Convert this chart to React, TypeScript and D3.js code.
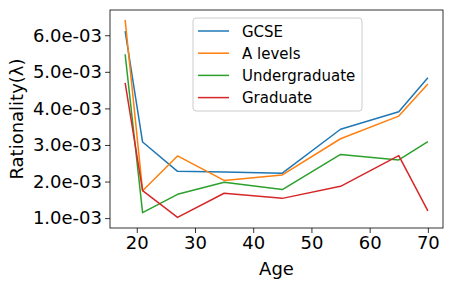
import React, { useEffect, useRef } from "react";
import * as d3 from "d3";

const ages = [18, 21, 27, 35, 45, 55, 65, 70];
const gcse = [6.11e-3, 3.08e-3, 2.28e-3, 2.26e-3, 2.23e-3, 3.43e-3, 3.91e-3, 4.84e-3];
const aLevels = [6.42e-3, 1.75e-3, 2.7e-3, 2.03e-3, 2.18e-3, 3.17e-3, 3.79e-3, 4.67e-3];
const undergrad = [5.48e-3, 1.15e-3, 1.65e-3, 1.98e-3, 1.78e-3, 2.74e-3, 2.59e-3, 3.09e-3];
const graduate = [4.7e-3, 1.75e-3, 1.02e-3, 1.68e-3, 1.54e-3, 1.87e-3, 2.71e-3, 1.2e-3];
const seriesNames = ["GCSE", "A levels", "Undergraduate", "Graduate"];
const colors = ["#1f77b4", "#ff7f0e", "#2ca02c", "#d62728"];
const xTicks = [20, 30, 40, 50, 60, 70];
const yTicks = [1e-3, 2e-3, 3e-3, 4e-3, 5e-3, 6e-3];

const W = 455;
const H = 282;
const margin = { top: 10, right: 12, bottom: 54, left: 110 };
const font = "DejaVu Sans, sans-serif";

function drawChart(node: SVGSVGElement) {
  const svg = d3.select(node);
  svg.selectAll("*").remove();

  const innerW = W - margin.left - margin.right;
  const innerH = H - margin.top - margin.bottom;

  const x = d3.scaleLinear().domain([15.4, 72.6]).range([0, innerW]);
  const y = d3.scaleLinear().domain([0.73e-3, 6.69e-3]).range([innerH, 0]);

  const g = svg.append("g").attr("transform", `translate(${margin.left},${margin.top})`);

  const allSeries = [gcse, aLevels, undergrad, graduate];
  const line = d3
    .line<number>()
    .x((d, i) => x(ages[i]))
    .y(d => y(d));

  allSeries.forEach((vals, i) => {
    g.append("path")
      .datum(vals)
      .attr("d", line)
      .attr("fill", "none")
      .attr("stroke", colors[i])
      .attr("stroke-width", 1.5)
      .attr("stroke-linejoin", "round");
  });

  // axes
  const xAxis = g
    .append("g")
    .attr("transform", `translate(0,${innerH})`)
    .call(d3.axisBottom(x).tickValues(xTicks).tickSize(5).tickPadding(3).tickFormat(d3.format("d")));
  const yAxis = g
    .append("g")
    .call(
      d3
        .axisLeft(y)
        .tickValues(yTicks)
        .tickSize(5)
        .tickPadding(3)
        .tickFormat(d => (d as number).toExponential(1).replace(/e-(\d)$/, "e-0$1"))
    );
  [xAxis, yAxis].forEach(a => {
    a.select(".domain").remove();
    a.selectAll("line").attr("stroke", "#000").attr("stroke-width", 0.8);
    a.selectAll("text").attr("fill", "#000").style("font-family", font).style("font-size", "18px");
  });

  // frame
  g.append("rect")
    .attr("width", innerW)
    .attr("height", innerH)
    .attr("fill", "none")
    .attr("stroke", "#000")
    .attr("stroke-width", 0.8);

  // labels
  svg.append("text")
    .attr("x", margin.left + innerW / 2)
    .attr("y", 275)
    .attr("text-anchor", "middle")
    .style("font-family", font)
    .style("font-size", "18px")
    .text("Age");

  svg.append("text")
    .attr("transform", `translate(23,${margin.top + innerH / 2}) rotate(-90)`)
    .attr("text-anchor", "middle")
    .style("font-family", font)
    .style("font-size", "18px")
    .text("Rationality(λ)");

  // legend
  const lg = svg.append("g").attr("transform", "translate(193,18)");
  lg.append("rect")
    .attr("width", 169)
    .attr("height", 93)
    .attr("rx", 3)
    .attr("fill", "#fff")
    .attr("fill-opacity", 0.8)
    .attr("stroke", "#ccc")
    .attr("stroke-width", 1);
  seriesNames.forEach((name, i) => {
    const yy = 13 + i * 22.2;
    lg.append("line")
      .attr("x1", 5)
      .attr("x2", 36)
      .attr("y1", yy)
      .attr("y2", yy)
      .attr("stroke", colors[i])
      .attr("stroke-width", 1.5);
    lg.append("text")
      .attr("x", 49)
      .attr("y", yy + 5.5)
      .style("font-family", font)
      .style("font-size", "15px")
      .text(name);
  });
}

export default function App() {
  const ref = useRef<SVGSVGElement>(null);
  useEffect(() => {
    if (ref.current) drawChart(ref.current);
  }, []);
  return <svg ref={ref} width={W} height={H} style={{ display: "block", position: "absolute", left: 0, top: 0 }} />;
}
